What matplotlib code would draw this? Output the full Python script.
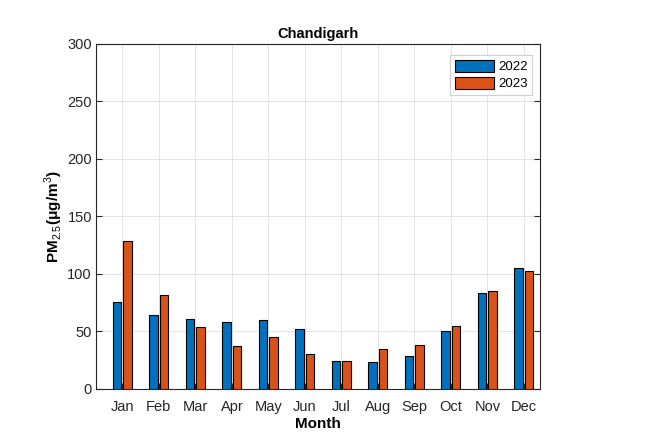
import matplotlib
matplotlib.use("Agg")
import matplotlib.pyplot as plt
import numpy as np

plt.rcParams["font.family"] = ["Liberation Sans", "DejaVu Sans"]
plt.rcParams["mathtext.fontset"] = "custom"
plt.rcParams["mathtext.rm"] = "Liberation Sans"
plt.rcParams["mathtext.bf"] = "Liberation Sans:bold"

# ==================== 数据 ====================
months = ["Jan", "Feb", "Mar", "Apr", "May", "Jun",
          "Jul", "Aug", "Sep", "Oct", "Nov", "Dec"]
pm_2022 = [76, 64, 61, 58, 60, 52, 24.5, 23.5, 29, 50, 83, 105]
pm_2023 = [129, 82, 54, 37.5, 45.5, 30.5, 24.5, 35, 38.5, 55, 85.5, 102.5]

BLUE = "#0072BD"
ORANGE = "#D95319"
AX_COLOR = "#262626"

fig = plt.figure(figsize=(6.72, 4.43), dpi=100)
ax = fig.add_axes([0.143, 0.122, 0.661, 0.779])

x = np.arange(1, len(months) + 1)
width = 0.23
ax.bar(x - 0.145, pm_2022, width, color=BLUE, edgecolor="black", linewidth=0.8, label="2022", zorder=3)
ax.bar(x + 0.145, pm_2023, width, color=ORANGE, edgecolor="black", linewidth=0.8, label="2023", zorder=3)

ax.set_xlim(0.28, 12.45)
ax.set_ylim(0, 300)
ax.set_xticks(x)
ax.set_xticklabels(months)
ax.set_yticks(np.arange(0, 301, 50))

ax.grid(True, color="#e3e3e3", linewidth=0.7, zorder=0)
ax.set_axisbelow(True)
for s in ax.spines.values():
    s.set_color(AX_COLOR)
    s.set_linewidth(0.8)
ax.tick_params(direction="in", length=4, width=0.8, colors=AX_COLOR,
               labelsize=10.5, top=True, right=True, labelcolor="#262626")
ax.tick_params(axis="x", top=False, pad=8)
ax.tick_params(axis="y", pad=3)

ax.set_title("Chandigarh", fontsize=10.5, fontweight="bold", pad=4)
ax.set_xlabel("Month", fontsize=11, fontweight="bold", labelpad=2)
ax.set_ylabel(r"PM$_{\mathrm{2.5}}$(μg/m$^{\mathrm{3}}$)", fontsize=11, fontweight="bold", labelpad=2)

leg = ax.legend(loc="upper right", fontsize=9.5, frameon=True, fancybox=False,
                handlelength=3.0, handleheight=1.1, borderpad=0.35,
                labelspacing=0.25, handletextpad=0.3, borderaxespad=0,
                bbox_to_anchor=(0.982, 0.968))
leg.get_frame().set_edgecolor("#d0d0d0")
leg.get_frame().set_linewidth(0.8)
leg.get_frame().set_alpha(1)

fig.savefig("out.png", dpi=100)
